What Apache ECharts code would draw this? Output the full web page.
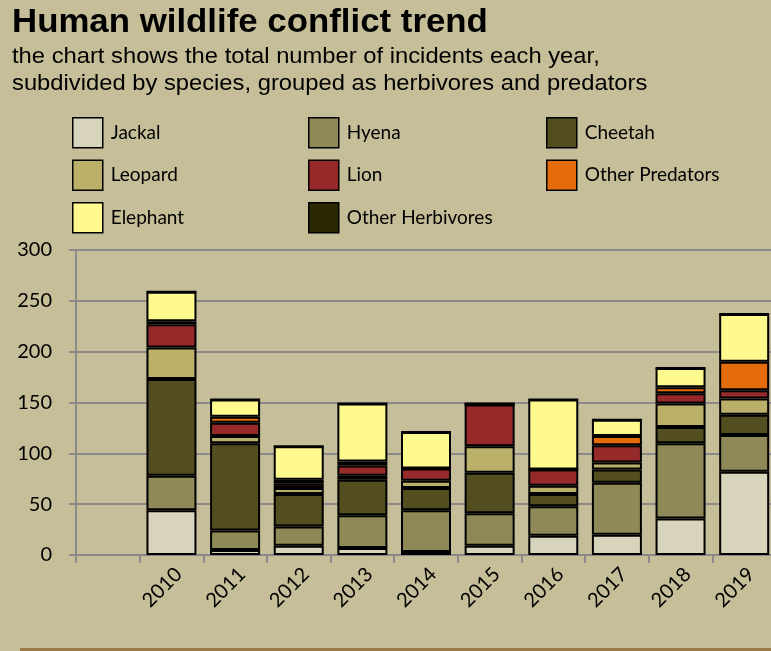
<!DOCTYPE html>
<html>
<head>
<meta charset="utf-8">
<script src="https://cdn.jsdelivr.net/npm/echarts@6/dist/echarts.min.js"></script>
<style>
html,body{margin:0;padding:0;background:#C5BE98;}
#chart{width:771px;height:651px;}
</style>
</head>
<body>
<div id="chart"></div>
<script>
const years = ['2010','2011','2012','2013','2014','2015','2016','2017','2018','2019'];
const yTicks = [0, 50, 100, 150, 200, 250, 300];
const jackal          = [44,  5,  9,  7,  3,  9, 19, 20, 36, 82];
const hyena           = [34, 19, 19, 32, 41, 32, 29, 51, 74, 36];
const cheetah         = [95, 86, 32, 35, 22, 40, 12, 13, 16, 20];
const leopard         = [31,  7,  6,  4,  7, 26,  8,  7, 23, 16];
const lion            = [23, 13,  4, 10, 12, 41, 16, 17, 10,  8];
const otherPredators  = [ 3,  6,  4,  4,  0,  0,  0,  9,  6, 28];
const elephant        = [29, 17, 33, 57, 36,  0, 69, 16, 19, 47];
const otherHerbivores = [ 0,  0,  0,  0,  0,  2,  0,  0,  0,  0];

const titleText = 'Human wildlife conflict trend';
const subtitleText = 'the chart shows the total number of incidents each year,\nsubdivided by species, grouped as herbivores and predators';

const seriesDefs = [
  ['Jackal', jackal, '#D8D3BB'],
  ['Hyena', hyena, '#8E8956'],
  ['Cheetah', cheetah, '#534E20'],
  ['Leopard', leopard, '#BAB06A'],
  ['Lion', lion, '#962A2A'],
  ['Other Predators', otherPredators, '#E46C0A'],
  ['Elephant', elephant, '#FFFA8E'],
  ['Other Herbivores', otherHerbivores, '#2B2902']
];

const categories = [''].concat(years);
const chart = echarts.init(document.getElementById('chart'), null, {renderer: 'canvas'});

const legendText = {fontFamily: 'Lato', fontSize: 19, color: '#000', padding: [0, 0, 0, 3]};
const legendCommon = {
  orient: 'vertical', top: 117, padding: 0, itemWidth: 30, itemHeight: 30, itemGap: 11,
  icon: 'rect', textStyle: legendText, selectedMode: false,
  itemStyle: {borderColor: '#000', borderWidth: 1.5}
};

chart.setOption({
  backgroundColor: '#C5BE98',
  animation: false,
  legend: [
    Object.assign({left: 72, data: ['Jackal', 'Leopard', 'Elephant']}, legendCommon),
    Object.assign({left: 308, data: ['Hyena', 'Lion', 'Other Herbivores']}, legendCommon),
    Object.assign({left: 546, data: ['Cheetah', 'Other Predators']}, legendCommon)
  ],
  grid: {left: 76, top: 250, width: 700, height: 305, containLabel: false, outerBoundsMode: 'none'},
  xAxis: {
    type: 'category', data: categories,
    axisLine: {lineStyle: {color: '#8A8A8A', width: 2}},
    axisTick: {show: true, length: 8, lineStyle: {color: '#8A8A8A', width: 2}},
    axisLabel: {rotate: 45, margin: 9, verticalAlign: 'top', fontFamily: 'Lato', fontSize: 20, color: '#000', interval: 0},
    splitLine: {show: false}
  },
  yAxis: {
    type: 'value', min: yTicks[0], max: yTicks[yTicks.length - 1], interval: yTicks[1] - yTicks[0],
    axisLine: {show: true, lineStyle: {color: '#8A8A8A', width: 2}},
    axisTick: {show: true, length: 7, lineStyle: {color: '#8A8A8A', width: 2}},
    axisLabel: {margin: 24, fontFamily: 'Lato', fontSize: 20, color: '#000'},
    splitLine: {show: true, lineStyle: {color: '#8A8A8A', width: 2}}
  },
  graphic: [
    {type: 'text', x: 12, y: 6, scaleX: 1.055, silent: true,
     style: {text: titleText, font: 'bold 33px "Liberation Sans", Arial, sans-serif', fill: '#000', verticalAlign: 'top'}},
    {type: 'text', x: 12, y: 43, scaleX: 1.08, silent: true,
     style: {text: subtitleText, font: '22px "Liberation Sans", Arial, sans-serif', lineHeight: 27, fill: '#000', verticalAlign: 'top'}},
    {type: 'rect', shape: {x: 20, y: 648, width: 760, height: 3}, style: {fill: '#9C7A48'}, silent: true}
  ],
  series: seriesDefs.map(function (d) {
    return {
      name: d[0], type: 'bar', stack: 'total', barWidth: 50,
      data: [null].concat(d[1]),
      itemStyle: {color: d[2], borderColor: '#000', borderWidth: 2},
      emphasis: {disabled: true}
    };
  })
});
</script>
</body>
</html>
